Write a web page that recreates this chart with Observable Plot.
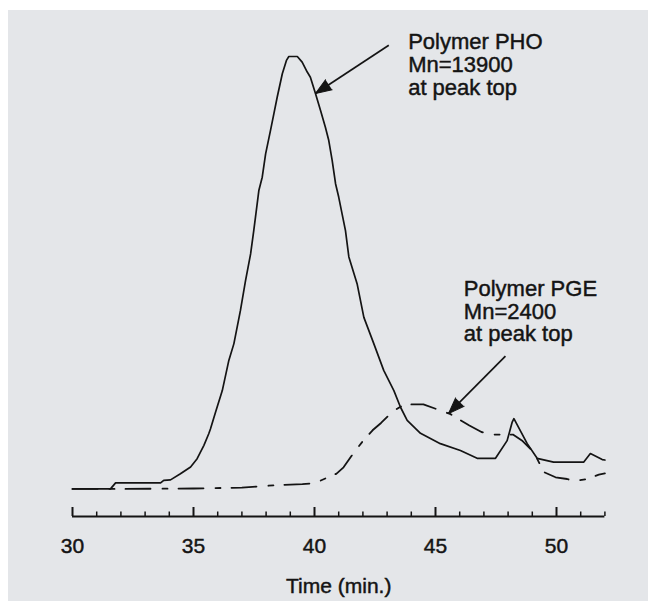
<!DOCTYPE html>
<html><head><meta charset="utf-8">
<script src="https://cdn.jsdelivr.net/npm/d3@7"></script>
<script src="https://cdn.jsdelivr.net/npm/@observablehq/plot@0.6"></script>
<style>
html,body{margin:0;padding:0;background:#fff;}
#chart{position:absolute;left:8px;top:10px;width:640px;height:591px;background:#e4e6e9;}
#chart svg text{stroke:#141414;stroke-width:0.45px;}
</style></head><body><div id="chart"></div>
<script>
// Polymer PHO (solid)
const phoTime = [30, 31.57, 31.78, 33.64, 33.77, 34.05, 34.46, 34.88, 35.15, 35.43, 35.63, 35.70, 35.91, 36.19, 36.46, 36.67, 36.94, 37.15, 37.36, 37.49, 37.56, 37.70, 37.84, 37.98, 38.18, 38.32, 38.46, 38.67, 38.84, 38.94, 39.29, 39.49, 39.70, 39.83, 40.04, 40.25, 40.45, 40.59, 40.73, 40.87, 41.00, 41.14, 41.28, 41.42, 41.76, 42.04, 42.45, 42.86, 43.28, 43.55, 43.83, 44.38, 45.2, 46.03, 46.72, 47.48, 47.96, 48.17, 48.24, 48.79, 49.2, 49.88, 51.12, 51.4, 51.89, 52];
const phoSignal = [-0.1, -0.1, 1.3, 1.3, 1.9, 2.0, 3.4, 5.0, 6.9, 10.0, 12.7, 13.8, 17.7, 22.7, 29.7, 33.6, 41.3, 48.2, 54.4, 59.8, 62.9, 69.1, 72.2, 77.6, 83.0, 86.9, 90.8, 96.2, 99.3, 100.2, 100.2, 98.9, 96.6, 95.4, 91.6, 87.7, 83.8, 80.7, 76.1, 70.7, 67.6, 63.7, 59.8, 53.7, 47.5, 39.7, 33.6, 27.4, 22.7, 18.9, 15.8, 12.8, 10.4, 8.8, 7.0, 7.0, 11.1, 15.4, 16.2, 10.4, 7.0, 6.1, 6.1, 8.1, 6.7, 6.6];
// Polymer PGE (dash-dot)
const pgeTime = [30, 32, 35, 37, 38.5, 39.5, 40.0, 40.4, 40.9, 41.2, 41.6, 42.0, 42.4, 42.75, 43.2, 43.7, 44.5, 45.1, 45.6, 46.4, 46.9, 47.4, 48.2, 48.6, 49.06, 49.48, 49.96, 50.44, 50.7, 51.27, 51.75, 52];
const pgeSignal = [-0.1, -0.1, 0, 0.2, 0.8, 1.0, 1.2, 2.2, 3.4, 4.9, 8.1, 11.0, 13.5, 15.2, 17.7, 19.5, 19.5, 18.3, 17.3, 14.6, 13.1, 12.5, 12.5, 11.0, 8.4, 3.8, 2.6, 2.2, 1.7, 2.2, 3.2, 3.5];

const majorTicks = [30, 35, 40, 45, 50];
const minorTicks = [31, 32, 33, 34, 36, 37, 38, 39, 41, 42, 43, 44, 46, 47, 48, 49, 51, 52];
const xLabel = "Time (min.)";

const noteText = ["Polymer PHO\nMn=13900\nat peak top", "Polymer PGE\nMn=2400\nat peak top"];
const noteTime = [43.87, 46.17];
const noteSignal = [105.6, 48.4];
const arrowFromTime = [43.07, 47.89];
const arrowFromSignal = [102.8, 30.7];
const arrowToTime = [40.04, 45.54];
const arrowToSignal = [91.6, 17.4];

const W = 640, H = 591;
const mL = 64, mR = 43.6, mT = 21, mB = 85;
const xDom = [30, 52], yDom = [-6.5, 106];
const kx = (W - mL - mR) / (xDom[1] - xDom[0]);
const ky = (H - mT - mB) / (yDom[1] - yDom[0]);
const ink = "#141414";

const pho = phoTime.map((t, i) => ({t, v: phoSignal[i]}));
const pge = pgeTime.map((t, i) => ({t, v: pgeSignal[i]}));
const idx = [0, 1];
const rot = i => {
  const dx = (arrowToTime[i] - arrowFromTime[i]) * kx;
  const dy = -(arrowToSignal[i] - arrowFromSignal[i]) * ky;
  return Math.atan2(dx, -dy) * 180 / Math.PI;
};

const plot = Plot.plot({
  width: W, height: H,
  marginLeft: mL, marginRight: mR, marginTop: mT, marginBottom: mB,
  x: {domain: xDom},
  y: {domain: yDom, axis: null},
  style: {background: "transparent", fontFamily: "'Liberation Sans', Arial, sans-serif", color: ink},
  marks: [
    Plot.ruleY([yDom[0]], {x1: xDom[0], x2: xDom[1], stroke: ink, strokeWidth: 2}),
    Plot.ruleX(majorTicks, {x: d => d, y1: yDom[0], y2: yDom[0] + 9 / ky, stroke: ink, strokeWidth: 2}),
    Plot.ruleX(minorTicks, {x: d => d, y1: yDom[0], y2: yDom[0] + 4.5 / ky, stroke: ink, strokeWidth: 1.5}),
    Plot.axisX(majorTicks, {anchor: "bottom", tickSize: 0, tickPadding: 22, fontSize: 21, label: xLabel, labelAnchor: "center", labelOffset: 76, labelArrow: "none"}),
    Plot.line(pge, {x: "t", y: "v", stroke: ink, strokeWidth: 1.8, strokeDasharray: "25,12,5,11"}),
    Plot.line(pho, {x: "t", y: "v", stroke: ink, strokeWidth: 1.7}),
    Plot.link(idx, {x1: i => arrowFromTime[i], y1: i => arrowFromSignal[i], x2: i => arrowToTime[i], y2: i => arrowToSignal[i], stroke: ink, strokeWidth: 1.7}),
    Plot.vector(idx, {x: i => arrowToTime[i], y: i => arrowToSignal[i], rotate: rot, length: 16, r: 6, shape: "spike", anchor: "end", fill: ink, stroke: ink, strokeWidth: 1}),
    Plot.text(idx, {x: i => noteTime[i], y: i => noteSignal[i], text: i => noteText[i], textAnchor: "start", lineAnchor: "top", fontSize: 22, lineHeight: 1.03, fill: ink})
  ]
});
document.getElementById("chart").appendChild(plot);
</script></body></html>
